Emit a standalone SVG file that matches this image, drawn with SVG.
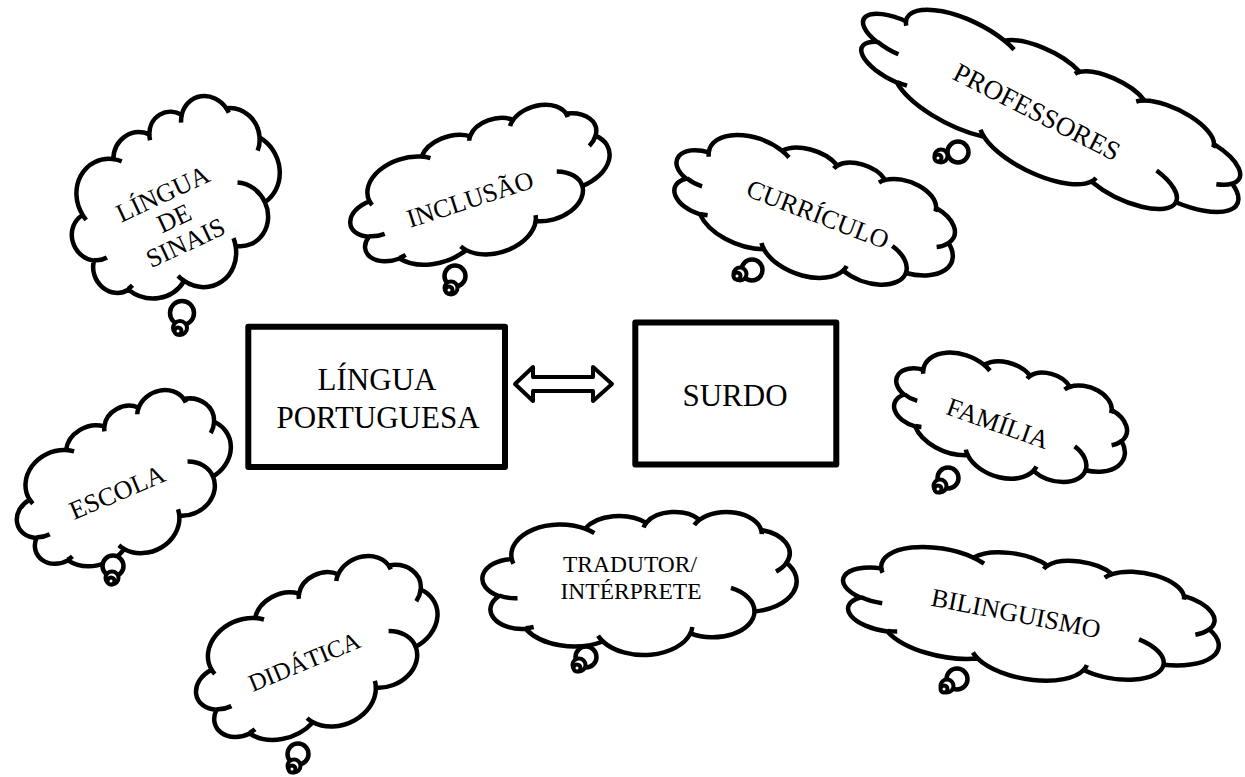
<svg xmlns="http://www.w3.org/2000/svg" xmlns:xlink="http://www.w3.org/1999/xlink" width="1245" height="777" viewBox="0 0 1245 777">
<style>
.cl{fill:#fff;stroke:#000;stroke-width:4.5;stroke-linejoin:round;vector-effect:non-scaling-stroke}
.ci{fill:none;stroke:#000;stroke-width:4.5;stroke-linecap:butt;vector-effect:non-scaling-stroke}
.bb{fill:#fff;stroke:#000;stroke-width:4.5}
.bs{fill:#fff;stroke:#000;stroke-width:4}
.t{font-family:"Liberation Serif","Times New Roman",serif;font-size:26px;fill:#000;text-anchor:middle}
.bx{fill:#fff;stroke:#000;stroke-width:6;stroke-linejoin:round}
.bt{font-family:"Liberation Serif","Times New Roman",serif;font-size:31px;fill:#000;text-anchor:middle}
</style>
<defs>
<path id="cloud" class="cl" d="M3900 14370 A6753 9190 0 0 1 14005 5202 A5333 7267 0 0 1 22457 3434 A4365 5945 0 0 1 29835 2484 A4857 6595 0 0 1 38320 5579 A5333 7273 0 0 1 41821 15463 A6775 9220 0 0 1 37406 30205 A5785 7867 0 0 1 28557 36815 A6752 9215 0 0 1 16483 39268 A7720 10543 0 0 1 5823 35463 A4360 5918 0 0 1 2132 25542 A4345 5945 0 0 1 3900 14370 Z"/>
<path id="cloudIn" class="ci" d="M4693 26177 A4345 5945 0 0 1 2159 25379 M6928 34899 A4360 5918 0 0 1 5819 35281 M16483 39268 A6752 9215 0 0 1 15814 37525 M28824 34906 A6752 9215 0 0 1 28557 36815 M34155 23069 A5785 7867 0 0 1 37406 30205 M41821 15463 A5333 7273 0 0 1 40372 18140 M38320 5579 A4857 6595 0 0 1 38397 6842 M29093 4096 A4857 6595 0 0 1 29835 2484 M22098 4823 A4365 5945 0 0 1 22457 3434 M14005 5202 A6753 9190 0 0 1 15307 6553 M4127 15789 A6753 9190 0 0 1 3900 14370"/>
</defs>
<rect width="1245" height="777" fill="#fff"/>

<g id="connectors">
<polygon points="515,384 533,367 533,377 593,377 593,367 612,384 593,401 593,391 533,391 533,401" fill="#fff" stroke="#000" stroke-width="4" stroke-linejoin="round"/>
</g>

<g id="node-lingua-portuguesa">
<rect class="bx" x="248.3" y="326.7" width="256.7" height="140.3"/>
<text class="bt" x="377" y="390">LÍNGUA</text>
<text class="bt" x="378" y="428">PORTUGUESA</text>
</g>

<g id="node-surdo">
<rect class="bx" x="635.3" y="322.5" width="201" height="142"/>
<text class="bt" x="735" y="406">SURDO</text>
</g>

<g id="node-professores">
<g transform="translate(1050 114) rotate(26) scale(0.0096065 0.0028) translate(-21600 -21600)"><use xlink:href="#cloud"/><use xlink:href="#cloudIn"/></g>
<circle class="bb" cx="958" cy="152" r="10.5"/>
<circle class="bs" cx="941" cy="156" r="6.5"/><circle class="bs" cx="938" cy="158" r="3.5"/>
<text class="t" style="font-size:27px" transform="translate(1037 112) rotate(27)" y="9">PROFESSORES</text>
</g>

<g id="node-curriculo">
<g transform="translate(814 213) rotate(20) scale(0.0067593 0.0029) translate(-21600 -21600)"><use xlink:href="#cloud"/><use xlink:href="#cloudIn"/></g>
<circle class="bb" cx="752" cy="270" r="10.5"/>
<circle class="bs" cx="740" cy="274" r="6.5"/><circle class="bs" cx="737" cy="276" r="3.5"/>
<text class="t" transform="translate(818 214) rotate(21)" y="9">CURRÍCULO</text>
</g>

<g id="node-lingua-sinais">
<g transform="translate(177 204) rotate(-25) scale(0.0050926 0.0041204) translate(-21600 -21600)"><use xlink:href="#cloud"/><use xlink:href="#cloudIn"/></g>
<circle class="bb" cx="182" cy="313" r="12"/>
<circle class="bs" cx="180" cy="328" r="7"/><circle class="bs" cx="178" cy="331" r="3.5"/>
<text class="t" transform="translate(174 218) rotate(-25)"><tspan x="0" y="-18">LÍNGUA</tspan><tspan x="0" y="9">DE</tspan><tspan x="0" y="36">SINAIS</tspan></text>
</g>

<g id="node-inclusao">
<g transform="translate(481 190) rotate(-17) scale(0.0062037 0.0030093) translate(-21600 -21600)"><use xlink:href="#cloud"/><use xlink:href="#cloudIn"/></g>
<circle class="bb" cx="455" cy="276" r="10.5"/>
<circle class="bs" cx="451" cy="288" r="6.5"/><circle class="bs" cx="449" cy="290" r="3.5"/>
<text class="t" transform="translate(470 199) rotate(-18)" y="9">INCLUSÃO</text>
</g>

<g id="node-familia">
<g transform="translate(1010 420) rotate(19) scale(0.0055556 0.002662) translate(-21600 -21600)"><use xlink:href="#cloud"/><use xlink:href="#cloudIn"/></g>
<circle class="bb" cx="948" cy="478" r="10.5"/>
<circle class="bs" cx="940" cy="486" r="6.5"/><circle class="bs" cx="938" cy="489" r="3.5"/>
<text class="t" transform="translate(998 423) rotate(19.5)" y="9">FAMÍLIA</text>
</g>

<g id="node-escola">
<g transform="translate(125 484) rotate(-24) scale(0.0052778 0.0033565) translate(-21600 -21600)"><use xlink:href="#cloud"/><use xlink:href="#cloudIn"/></g>
<circle class="bb" cx="113" cy="566" r="10.5"/>
<circle class="bs" cx="112" cy="578" r="6.5"/><circle class="bs" cx="111" cy="581" r="3.5"/>
<text class="t" transform="translate(117 492) rotate(-23)" y="9">ESCOLA</text>
</g>

<g id="node-didatica">
<g transform="translate(318 654) rotate(-22) scale(0.0059028 0.0034722) translate(-21600 -21600)"><use xlink:href="#cloud"/><use xlink:href="#cloudIn"/></g>
<circle class="bb" cx="298" cy="754" r="10.5"/>
<circle class="bs" cx="294" cy="766" r="6.5"/><circle class="bs" cx="292" cy="769" r="3.5"/>
<text class="t" style="font-size:24.5px" transform="translate(304 661) rotate(-22.5)" y="9">DIDÁTICA</text>
</g>

<g id="node-tradutor">
<g transform="translate(640 583) scale(0.0072454 0.0033102) translate(-21600 -21600)"><use xlink:href="#cloud"/><use xlink:href="#cloudIn"/></g>
<circle class="bb" cx="586" cy="657" r="10.5"/>
<circle class="bs" cx="579" cy="665" r="6.5"/><circle class="bs" cx="577" cy="668" r="3.5"/>
<text class="t" style="font-size:23.5px" x="630" y="572">TRADUTOR/</text>
<text class="t" style="font-size:23.5px" x="631" y="599">INTÉRPRETE</text>
</g>

<g id="node-bilinguismo">
<g transform="translate(1031 616) rotate(10) scale(0.0087963 0.0028935) translate(-21600 -21600)"><use xlink:href="#cloud"/><use xlink:href="#cloudIn"/></g>
<circle class="bb" cx="957" cy="679" r="10.5"/>
<circle class="bs" cx="947" cy="686" r="6.5"/><circle class="bs" cx="944" cy="689" r="3.5"/>
<text class="t" transform="translate(1016 613) rotate(11)" y="9">BILINGUISMO</text>
</g>
</svg>
